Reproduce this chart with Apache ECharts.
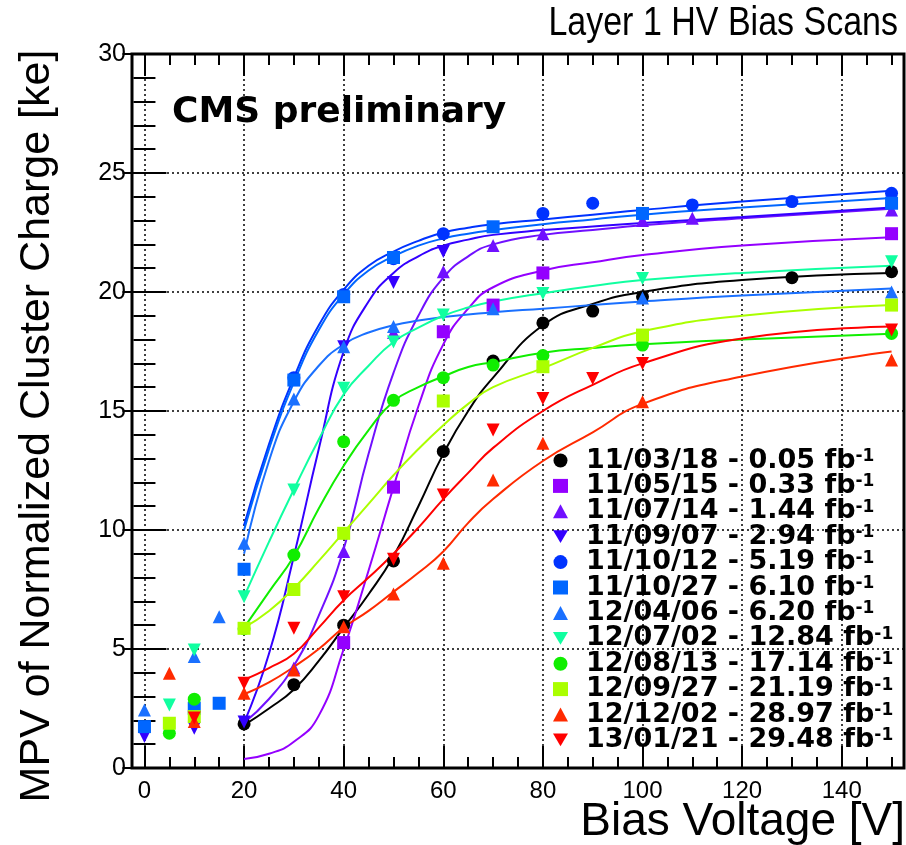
<!DOCTYPE html>
<html>
<head>
<meta charset="utf-8">
<title>Layer 1 HV Bias Scans</title>
<script src="https://cdn.jsdelivr.net/npm/echarts@6.0.0/dist/echarts.min.js"></script>
<style>
  html, body { margin: 0; padding: 0; background: #fff; }
  #chart { width: 906px; height: 845px; }
</style>
</head>
<body>
<div id="chart"></div>
<script>
// axis ticks
const xMajor = [0, 20, 40, 60, 80, 100, 120, 140];
const xMinor = [5, 10, 15, 25, 30, 35, 45, 50, 55, 65, 70, 75, 85, 90, 95, 105, 110, 115, 125, 130, 135, 145, 150];

// scan dates and integrated lumi
const labels = [
  '11/03/18 - 0.05 fb', '11/05/15 - 0.33 fb', '11/07/14 - 1.44 fb', '11/09/07 - 2.94 fb',
  '11/10/12 - 5.19 fb', '11/10/27 - 6.10 fb', '12/04/06 - 6.20 fb', '12/07/02 - 12.84 fb',
  '12/08/13 - 17.14 fb', '12/09/27 - 21.19 fb', '12/12/02 - 28.97 fb', '13/01/21 - 29.48 fb'
];
const colors = ['#000000', '#9400ff', '#7010ff', '#3300ff', '#0033ff', '#0066ff',
  '#1a70ff', '#10ffa0', '#10ee00', '#aaff00', '#ff2a00', '#ff0000'];
const down = 'path://M0,0L20,0L10,17Z';
const symbols = ['circle', 'rect', 'triangle', down, 'circle', 'rect',
  'triangle', down, 'circle', 'rect', 'triangle', down];

// measured MPV [bias V, ke]
const pts110318 = [[20, 1.85], [30, 3.5], [40, 6.0], [50, 8.7], [60, 13.3], [70, 17.1], [80, 18.7], [90, 19.2], [100, 19.8], [130, 20.6], [150, 20.85]];
const pts110515 = [[40, 5.27], [50, 11.8], [60, 18.33], [70, 19.45], [80, 20.8], [150, 22.45]];
const pts110714 = [[30, 4.2], [40, 9.1], [50, 18.3], [60, 20.85], [70, 21.95], [80, 22.45], [100, 23.0], [110, 23.1], [150, 23.45]];
const pts110907 = [[0, 1.32], [10, 1.67], [20, 1.93], [40, 17.7], [50, 20.4], [60, 21.7]];
const pts111012 = [[30, 16.4], [40, 19.9], [50, 21.4], [60, 22.45], [80, 23.3], [90, 23.73], [110, 23.66], [130, 23.8], [150, 24.15]];
const pts111027 = [[0, 1.74], [10, 2.51], [15, 2.72], [20, 8.35], [30, 16.3], [40, 19.8], [50, 21.45], [70, 22.74], [100, 23.3], [150, 23.73]];
const pts120406 = [[0, 2.44], [10, 4.68], [15, 6.36], [20, 9.44], [30, 15.5], [40, 17.7], [50, 18.55], [70, 19.3], [100, 19.75], [150, 20.0]];
const pts120702 = [[5, 2.65], [10, 4.96], [20, 7.2], [30, 11.68], [40, 15.96], [50, 17.9], [60, 19.03], [80, 19.94], [100, 20.57], [150, 21.27]];
const pts120813 = [[5, 1.46], [10, 2.89], [20, 5.85], [30, 8.95], [40, 13.71], [50, 15.45], [60, 16.4], [70, 16.93], [80, 17.33], [100, 17.77], [150, 18.26]];
const pts120927 = [[5, 1.88], [10, 2.16], [20, 5.87], [30, 7.5], [40, 9.86], [60, 15.42], [80, 16.86], [100, 18.19], [150, 19.45]];
const pts121202 = [[5, 3.98], [10, 1.95], [20, 3.14], [30, 4.12], [40, 5.94], [50, 7.31], [60, 8.6], [70, 12.1], [80, 13.64], [100, 15.39], [150, 17.14]];
const pts130121 = [[10, 2.1], [20, 3.56], [30, 5.87], [40, 7.2], [50, 8.77], [60, 11.47], [70, 14.2], [80, 15.53], [90, 16.37], [100, 17.0], [150, 18.4]];

// fitted curves, read at fitV
const fitV = [20, 25, 30, 35, 40, 45, 50, 55, 60, 65, 70, 80, 90, 100, 120, 150];
const fit110318 = [1.8, 2.5, 3.3, 4.5, 5.9, 7.3, 8.9, 11.0, 13.2, 15.0, 16.4, 18.6, 19.5, 20.0, 20.5, 20.8];
const fit110515 = [0.38, 0.6, 1.1, 2.2, 5.0, 8.3, 11.8, 15.2, 17.8, 19.3, 20.2, 20.9, 21.25, 21.55, 21.95, 22.3];
const fit110714 = [1.9, 2.9, 4.3, 6.4, 9.2, 13.2, 16.6, 19.0, 20.6, 21.5, 22.0, 22.4, 22.6, 22.8, 23.1, 23.5];
const fit110907 = [1.9, 4.8, 8.9, 13.4, 17.5, 19.6, 20.8, 21.5, 21.95, 22.2, 22.4, 22.6, 22.75, 22.9, 23.15, 23.55];
const fit111012 = [10.2, 13.6, 16.4, 18.6, 20.1, 21.1, 21.7, 22.15, 22.5, 22.7, 22.85, 23.05, 23.25, 23.45, 23.8, 24.25];
const fit111027 = [10.0, 13.4, 16.2, 18.4, 19.9, 20.9, 21.5, 21.95, 22.25, 22.45, 22.6, 22.85, 23.05, 23.25, 23.55, 23.95];
const fit120406 = [9.0, 12.9, 15.4, 16.9, 17.8, 18.3, 18.6, 18.8, 18.95, 19.05, 19.15, 19.3, 19.45, 19.6, 19.85, 20.15];
const fit120702 = [7.2, 9.5, 11.7, 13.8, 15.7, 16.9, 17.9, 18.5, 19.0, 19.35, 19.6, 19.95, 20.25, 20.5, 20.8, 21.1];
const fit120813 = [5.9, 7.4, 8.9, 10.9, 12.7, 14.2, 15.4, 16.0, 16.45, 16.85, 17.05, 17.45, 17.65, 17.8, 18.0, 18.25];
const fit120927 = [5.9, 6.6, 7.55, 8.7, 9.9, 11.1, 12.3, 13.4, 14.4, 15.3, 16.0, 16.8, 17.65, 18.35, 19.0, 19.45];
const fit121202 = [3.1, 3.6, 4.25, 5.0, 5.9, 6.6, 7.4, 8.2, 9.1, 10.3, 11.3, 12.9, 14.1, 15.3, 16.45, 17.5];
const fit130121 = [3.7, 4.2, 4.8, 5.9, 7.05, 8.0, 9.0, 10.1, 11.3, 12.4, 13.45, 15.0, 16.1, 17.0, 18.05, 18.55];

const points = [pts110318, pts110515, pts110714, pts110907, pts111012, pts111027,
  pts120406, pts120702, pts120813, pts120927, pts121202, pts130121];
const fits = [fit110318, fit110515, fit110714, fit110907, fit111012, fit111027,
  fit120406, fit120702, fit120813, fit120927, fit121202, fit130121];

const chart = echarts.init(document.getElementById('chart'));

const tickStyle = { color: '#000', width: 2 };
const dotted = { color: '#000', width: 1.5, type: [2, 3] };
const xRange = { type: 'value', min: -2.5, max: 152.5, minInterval: 20, maxInterval: 20 };

// one axis per tick row: major / minor, bottom / top
function xTicks(pos, vals, len) {
  return Object.assign({}, xRange, {
    position: pos,
    axisLine: { show: false },
    axisLabel: { show: false },
    splitLine: { show: false },
    axisTick: { inside: true, length: len, lineStyle: tickStyle, customValues: vals }
  });
}

const series = [];
fits.forEach((f, i) => {
  series.push({
    name: 'fit ' + labels[i],
    type: 'line',
    data: fitV.map((v, k) => [v, f[k]]),
    smooth: 0.5,
    showSymbol: false,
    silent: true,
    lineStyle: { color: colors[i], width: 2 },
    z: 2
  });
});
points.forEach((p, i) => {
  series.push({
    name: labels[i],
    type: 'scatter',
    data: p,
    symbol: symbols[i],
    symbolSize: 13,
    itemStyle: { color: colors[i], opacity: 1 },
    emphasis: { disabled: true },
    z: 3
  });
});

chart.setOption({
  animation: false,
  backgroundColor: '#fff',
  grid: {
    left: 132, top: 54, width: 772, height: 714,
    show: true, borderColor: '#000', borderWidth: 3, backgroundColor: '#fff'
  },
  xAxis: [
    Object.assign({}, xRange, {
      position: 'bottom',
      axisLine: { show: false },
      axisTick: { inside: true, length: 22, lineStyle: tickStyle, customValues: xMajor },
      axisLabel: {
        customValues: xMajor, color: '#000', fontSize: 24,
        fontFamily: 'Liberation Sans', margin: 11
      },
      splitLine: { show: true, lineStyle: dotted }
    }),
    xTicks('bottom', xMinor, 11),
    xTicks('top', xMajor, 22),
    xTicks('top', xMinor, 11)
  ],
  yAxis: [
    {
      type: 'value', min: 0, max: 30, interval: 5, position: 'left',
      axisLine: { show: false },
      axisTick: { inside: true, length: 22, lineStyle: tickStyle },
      minorTick: { show: true, splitNumber: 5, length: 11, lineStyle: tickStyle },
      axisLabel: { color: '#000', fontSize: 25, fontFamily: 'Liberation Sans', margin: 6 },
      splitLine: { show: true, lineStyle: dotted }
    },
    {
      type: 'value', min: 0, max: 30, interval: 5, position: 'right',
      axisLine: { show: false },
      axisTick: { inside: true, length: 22, lineStyle: tickStyle },
      minorTick: { show: true, splitNumber: 5, length: 11, lineStyle: tickStyle },
      axisLabel: { show: false },
      splitLine: { show: false }
    }
  ],
  legend: {
    data: labels,
    orient: 'vertical',
    left: 553,
    top: 447,
    padding: 0,
    itemWidth: 15,
    itemHeight: 14,
    itemGap: -1.6,
    selectedMode: false,
    formatter: name => name + '{sup|-1}',
    textStyle: {
      color: '#000', fontFamily: 'DejaVu Sans', fontWeight: 'bold',
      fontSize: 27, lineHeight: 25, padding: [0, 0, 0, 13],
      rich: {
        sup: {
          color: '#000', fontFamily: 'DejaVu Sans', fontWeight: 'bold',
          fontSize: 17, lineHeight: 2, verticalAlign: 'top'
        }
      }
    }
  },
  graphic: [
    {
      type: 'text', x: 898, y: 24, scaleY: 1.2,
      style: { text: 'Layer 1 HV Bias Scans', fill: '#000', font: '34px "Liberation Sans"', align: 'right', verticalAlign: 'middle' }
    },
    {
      type: 'text', x: 172, y: 113,
      style: { text: 'CMS preliminary', fill: '#000', font: 'bold 36px "DejaVu Sans"', align: 'left', verticalAlign: 'middle' }
    },
    {
      type: 'text', x: 37, y: 426, rotation: Math.PI / 2,
      style: { text: 'MPV of Normalized Cluster Charge [ke]', fill: '#000', font: '43px "Liberation Sans"', align: 'center', verticalAlign: 'middle' }
    },
    {
      type: 'text', x: 905, y: 822,
      style: { text: 'Bias Voltage [V]', fill: '#000', font: '46px "Liberation Sans"', align: 'right', verticalAlign: 'middle' }
    }
  ],
  series: series
});
</script>
</body>
</html>
